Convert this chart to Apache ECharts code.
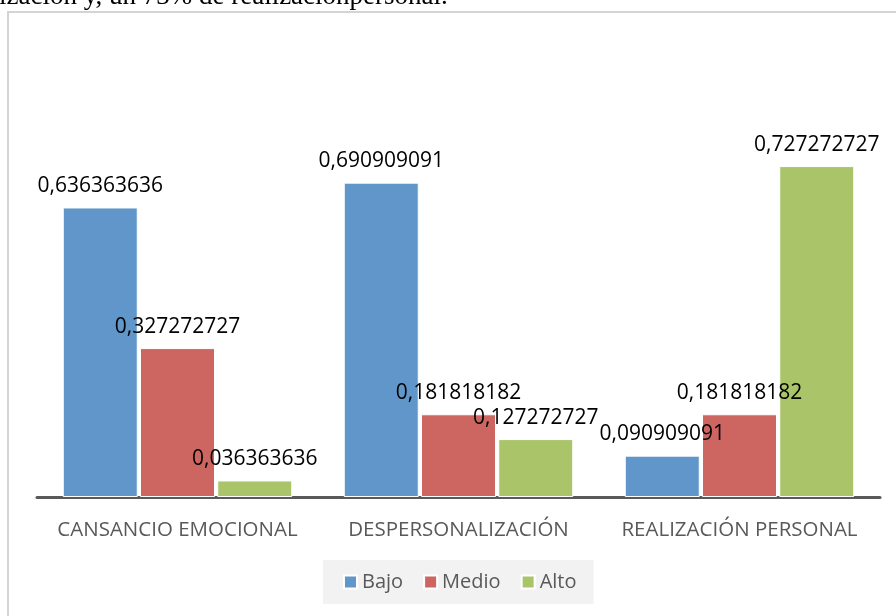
<!DOCTYPE html>
<html>
<head>
<meta charset="utf-8">
<script src="https://cdn.jsdelivr.net/npm/echarts@6/dist/echarts.min.js"></script>
<style>html,body{margin:0;padding:0;background:#fff}#c{width:896px;height:616px}</style>
</head>
<body>
<div id="c"></div>
<script>
var categories = ['CANSANCIO EMOCIONAL', 'DESPERSONALIZACIÓN', 'REALIZACIÓN PERSONAL'];
var seriesNames = ['Bajo', 'Medio', 'Alto'];
var bajo = [0.636363636, 0.690909091, 0.090909091];
var medio = [0.327272727, 0.181818182, 0.181818182];
var alto = [0.036363636, 0.127272727, 0.727272727];
var colors = ['#6096c9', '#cd6560', '#aac46a'];
var headerText = 'ización y, un 73% de realizaciónpersonal.';

var chart = echarts.init(document.getElementById('c'), null, {renderer: 'canvas'});
var fmt = function (p) { return String(p.value).replace('.', ','); };
function mk(name, data, color) {
  return {
    name: name, type: 'bar', data: data, barWidth: 75, barGap: '3%',
    itemStyle: {color: color, borderColor: '#fff', borderWidth: 1},
    label: {show: true, position: 'top', distance: 11, formatter: fmt,
      color: '#000', fontFamily: 'Open Sans', fontSize: 21,
      textShadowColor: 'rgba(0,0,0,0.6)', textShadowOffsetX: 1.2, textShadowBlur: 0},
    animation: false
  };
}
chart.setOption({
  animation: false,
  graphic: [
    {type: 'rect', shape: {x: 8, y: 12, width: 1000, height: 700},
      style: {fill: 'none', stroke: '#d4d4d4', lineWidth: 2}, z: -10},
    {type: 'text', x: -1, y: -3, style: {text: headerText, font: '27px "Liberation Serif"', fill: '#000', verticalAlign: 'middle'}}
  ],
  grid: {left: 37, right: 16, top: 133, bottom: 119},
  legend: {
    data: seriesNames, left: 323, top: 560,
    backgroundColor: '#f2f2f2', padding: [12, 17, 12, 20],
    itemWidth: 13, itemHeight: 13, itemGap: 20, icon: 'rect',
    textStyle: {color: '#595959', fontFamily: 'Open Sans', fontSize: 20}
  },
  xAxis: {
    type: 'category', data: categories,
    axisLine: {lineStyle: {color: '#595959', width: 3}},
    axisTick: {show: false},
    axisLabel: {interval: 0, color: '#595959', fontFamily: 'Open Sans', fontSize: 20.5, margin: 23}
  },
  yAxis: {type: 'value', min: 0, max: 0.8, show: false, splitLine: {show: false}},
  series: [mk(seriesNames[0], bajo, colors[0]), mk(seriesNames[1], medio, colors[1]), mk(seriesNames[2], alto, colors[2])]
});
</script>
</body>
</html>
